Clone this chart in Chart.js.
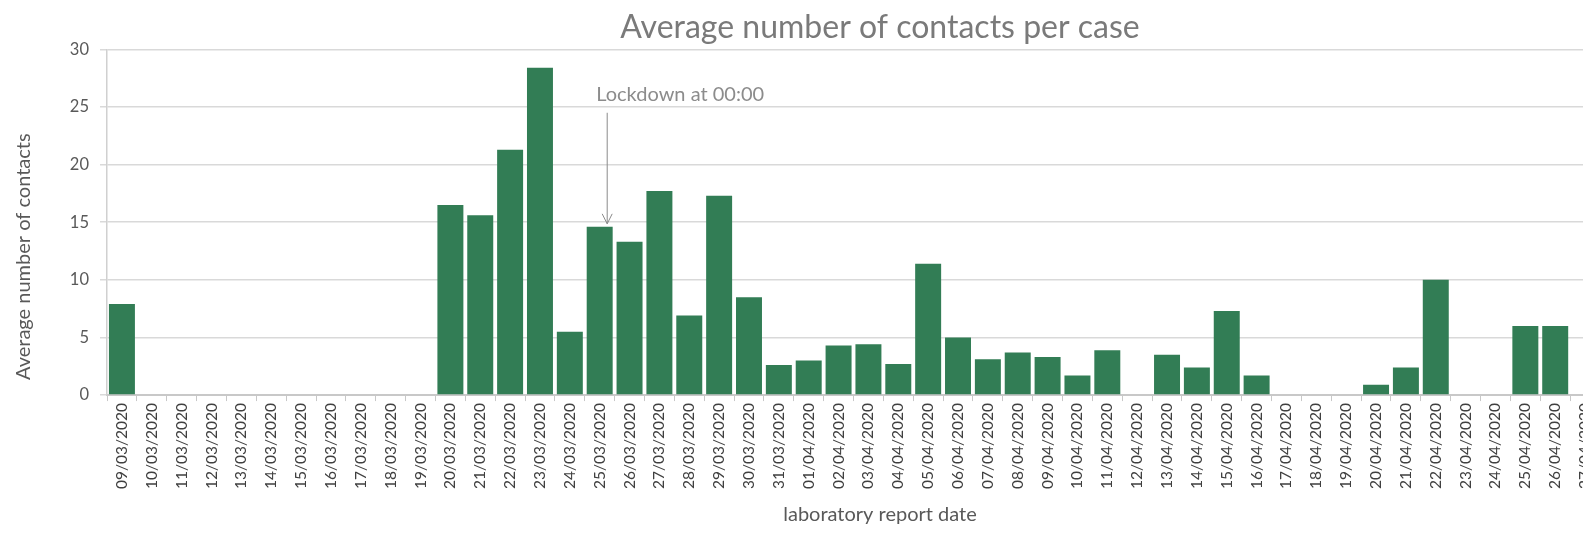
<!DOCTYPE html>
<html>
<head>
<meta charset="utf-8">
<script src="https://cdn.jsdelivr.net/npm/chart.js@4"></script>
<style>
  html, body { margin: 0; padding: 0; background: #fff; overflow: hidden; }
  #wrap { width: 1583px; height: 539px; overflow: hidden; }
  #wrap div { width: 1760px; height: 539px; }
</style>
</head>
<body>
<div id="wrap"><div><canvas id="chart"></canvas></div></div>
<script>
const dates = [
  '09/03/2020', '10/03/2020', '11/03/2020', '12/03/2020', '13/03/2020', '14/03/2020',
  '15/03/2020', '16/03/2020', '17/03/2020', '18/03/2020', '19/03/2020', '20/03/2020',
  '21/03/2020', '22/03/2020', '23/03/2020', '24/03/2020', '25/03/2020', '26/03/2020',
  '27/03/2020', '28/03/2020', '29/03/2020', '30/03/2020', '31/03/2020', '01/04/2020',
  '02/04/2020', '03/04/2020', '04/04/2020', '05/04/2020', '06/04/2020', '07/04/2020',
  '08/04/2020', '09/04/2020', '10/04/2020', '11/04/2020', '12/04/2020', '13/04/2020',
  '14/04/2020', '15/04/2020', '16/04/2020', '17/04/2020', '18/04/2020', '19/04/2020',
  '20/04/2020', '21/04/2020', '22/04/2020', '23/04/2020', '24/04/2020', '25/04/2020',
  '26/04/2020', '27/04/2020'
];
const avgContacts = [
  7.9, 0, 0, 0, 0, 0, 0, 0, 0, 0, 0, 16.5,
  15.6, 21.3, 28.4, 5.5, 14.6, 13.3, 17.7, 6.9, 17.3, 8.5, 2.6, 3.0,
  4.3, 4.4, 2.7, 11.4, 5.0, 3.1, 3.7, 3.3, 1.7, 3.9, 0, 3.5,
  2.4, 7.3, 1.7, 0, 0, 0, 0.9, 2.4, 10.0, 0, 0, 6.0,
  6.0, 0
];
const yTicks = [0, 5, 10, 15, 20, 25, 30];
const yTitle = 'Average number of contacts';
const lockdownIndex = 16;
const lockdownText = 'Lockdown at 00:00';

const font = 'Lato';

// y title sits a little low, like the Excel original
const yAxisTitle = {
  id: 'yAxisTitle',
  afterDraw(chart) {
    const {ctx, scales: {y}} = chart;
    ctx.save();
    ctx.translate(24, y.bottom - 15);
    ctx.rotate(-Math.PI / 2);
    ctx.fillStyle = '#595959';
    ctx.font = '20px ' + font;
    ctx.textAlign = 'left';
    ctx.textBaseline = 'middle';
    ctx.fillText(yTitle, 0, 0);
    ctx.restore();
  }
};

// arrow + label for the lockdown date
const lockdownNote = {
  id: 'lockdownNote',
  afterDatasetsDraw(chart) {
    const {ctx, scales: {x, y}} = chart;
    const ax = x.getPixelForValue(lockdownIndex) + 7.5;
    const tipY = y.getPixelForValue(avgContacts[lockdownIndex]) - 3;
    const topY = y.getPixelForValue(24.5);
    ctx.save();
    ctx.strokeStyle = '#8a8a8a';
    ctx.lineWidth = 1;
    ctx.beginPath();
    ctx.moveTo(ax, topY);
    ctx.lineTo(ax, tipY);
    ctx.moveTo(ax - 5, tipY - 10);
    ctx.lineTo(ax, tipY);
    ctx.lineTo(ax + 5, tipY - 10);
    ctx.stroke();
    ctx.fillStyle = '#8c8c8c';
    ctx.font = '20px ' + font;
    ctx.textAlign = 'left';
    ctx.textBaseline = 'middle';
    ctx.fillText(lockdownText, ax - 11, y.getPixelForValue(26.1));
    ctx.restore();
  }
};

new Chart(document.getElementById('chart'), {
  type: 'bar',
  data: {
    labels: dates,
    datasets: [{
      label: 'Average number of contacts',
      data: avgContacts,
      backgroundColor: '#327d55',
      borderWidth: 0,
      categoryPercentage: 1,
      barPercentage: 0.87
    }]
  },
  options: {
    responsive: true,
    maintainAspectRatio: false,
    animation: false,
    layout: {padding: 0},
    plugins: {
      legend: {display: false},
      tooltip: {enabled: false},
      title: {
        display: true,
        text: 'Average number of contacts per case',
        color: '#7a7a7a',
        font: {family: font, size: 32, weight: 'normal'},
        padding: {top: 8, bottom: 3}
      },
      subtitle: {
        display: true,
        position: 'bottom',
        text: 'laboratory report date',
        color: '#595959',
        font: {family: font, size: 20},
        padding: {top: 12, bottom: 12}
      }
    },
    scales: {
      x: {
        grid: {display: true, drawOnChartArea: false, offset: true, tickLength: 6, color: '#c8c8c8'},
        border: {color: '#c8c8c8', width: 2},
        ticks: {
          autoSkip: false,
          minRotation: 90,
          maxRotation: 90,
          padding: 2,
          color: '#404040',
          font: {family: font, size: 15.5}
        }
      },
      y: {
        min: 0,
        max: 30,
        afterBuildTicks(scale) {
          scale.ticks = yTicks.map(v => ({value: v}));
        },
        afterFit(scale) {
          scale.width = 107;
        },
        grid: {color: '#d9d9d9', lineWidth: 1.5, tickLength: 7},
        border: {color: '#d0d0d0', width: 1.5},
        ticks: {
          padding: 11,
          color: '#595959',
          font: {family: font, size: 16.5}
        }
      },
      // empty right-hand strip: the original chart continues past the crop
      pad: {
        type: 'linear',
        position: 'right',
        display: true,
        grid: {display: false},
        border: {display: false},
        ticks: {display: false},
        afterFit(scale) {
          scale.width = 160;
        }
      }
    }
  },
  plugins: [lockdownNote, yAxisTitle]
});
</script>
</body>
</html>
